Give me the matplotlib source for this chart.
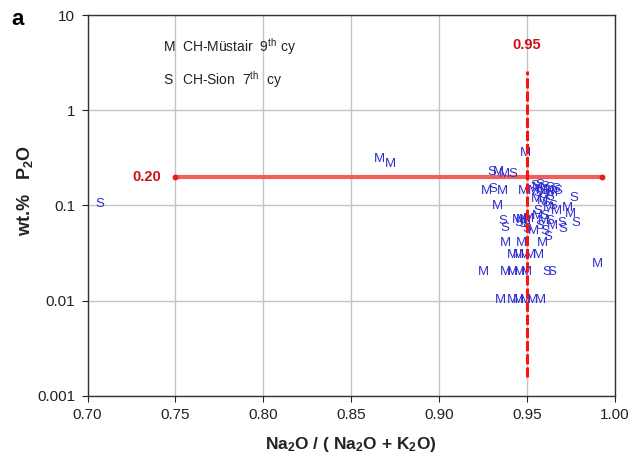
import matplotlib
matplotlib.use("Agg")
import matplotlib.pyplot as plt
from matplotlib.ticker import FixedLocator, NullLocator

plt.rcParams['font.family'] = ['Liberation Sans', 'DejaVu Sans']
plt.rcParams['mathtext.fontset'] = 'custom'
plt.rcParams['mathtext.rm'] = 'Liberation Sans'
plt.rcParams['mathtext.bf'] = 'Liberation Sans:bold'
plt.rcParams['mathtext.it'] = 'Liberation Sans:italic'

# ---- data ----
m_x = [0.866, 0.872, 0.949, 0.9335, 0.937, 0.927, 0.9358, 0.9477, 0.933,
       0.9375, 0.947, 0.9585, 0.925,
       0.9375, 0.9415, 0.9455, 0.9495,
       0.9415, 0.945, 0.9483, 0.952, 0.9563,
       0.9346, 0.9415, 0.945, 0.949, 0.953, 0.9574,
       0.9898,
       0.9534, 0.9557, 0.9585, 0.9619, 0.9642, 0.9551, 0.9585, 0.9619, 0.9665,
       0.9557, 0.9591, 0.9642, 0.9534, 0.9728, 0.9745,
       0.9443, 0.9466, 0.9489, 0.9506]
m_y = [0.309, 0.274, 0.358, 0.226, 0.215, 0.143, 0.143, 0.143, 0.099,
       0.0406, 0.0406, 0.0406, 0.0201,
       0.0201, 0.0201, 0.0201, 0.0201,
       0.0303, 0.0303, 0.0303, 0.0303, 0.0303,
       0.0102, 0.0102, 0.0102, 0.0102, 0.0102, 0.0102,
       0.0244,
       0.1427, 0.1535, 0.146, 0.1427, 0.136, 0.1176, 0.112, 0.0946, 0.088,
       0.078, 0.069, 0.0612, 0.0542, 0.0946, 0.0818,
       0.0708, 0.0708, 0.069, 0.0725]

s_x = [0.7071, 0.930, 0.942, 0.9306, 0.9363, 0.9375, 0.950, 0.9614, 0.964,
       0.9768, 0.9775, 0.9705, 0.970, 0.9676,
       0.9545, 0.9574, 0.9602, 0.9631, 0.9665, 0.9562, 0.9597, 0.9631, 0.9608,
       0.9648, 0.9562, 0.9602, 0.9631, 0.9574, 0.9602, 0.9619, 0.9454, 0.9477]
s_y = [0.104, 0.224, 0.215, 0.150, 0.069, 0.0583, 0.057, 0.0201, 0.0201,
       0.12, 0.0658, 0.0568, 0.066, 0.143,
       0.161, 0.165, 0.157, 0.1535, 0.1497, 0.136, 0.1296, 0.1234, 0.1067,
       0.0993, 0.088, 0.078, 0.069, 0.0612, 0.0542, 0.0469, 0.0658, 0.0643]

h_line_x = [0.75, 0.9925]
h_line_y = 0.20
v_line_x = 0.95
v_line_y = [0.00158, 2.6]

x_ticks = [0.70, 0.75, 0.80, 0.85, 0.90, 0.95, 1.00]
x_ticklabels = ['0.70', '0.75', '0.80', '0.85', '0.90', '0.95', '1.00']
y_ticks = [0.001, 0.01, 0.1, 1, 10]
y_ticklabels = ['0.001', '0.01', '0.1', '1', '10']

# ---- figure ----
fig = plt.figure(figsize=(6.36, 4.63), dpi=100)
ax = fig.add_axes([0.1376, 0.1454, 0.8294, 0.8222])
ax.set_yscale('log')
ax.set_xlim(0.70, 1.00)
ax.set_ylim(0.001, 10)

ax.xaxis.set_major_locator(FixedLocator(x_ticks))
ax.set_xticklabels(x_ticklabels)
ax.yaxis.set_major_locator(FixedLocator(y_ticks))
ax.yaxis.set_minor_locator(NullLocator())
ax.set_yticklabels(y_ticklabels)
ax.tick_params(axis='both', direction='out', length=4, width=0.8,
               labelsize=11, colors='#222222', pad=5)
ax.grid(True, which='major', color='#c4c4c4', linewidth=1.0)
ax.set_axisbelow(True)
for side, sp in ax.spines.items():
    sp.set_color('#333333')
    sp.set_linewidth(1.0)

# reference lines
ax.plot(h_line_x, [h_line_y, h_line_y], color='#f05f5a', linewidth=3.0,
        solid_capstyle='butt', zorder=2)
ax.plot(h_line_x, [h_line_y, h_line_y], linestyle='none', marker='o',
        markersize=3.2, color='#e02020', zorder=2)
ax.plot([v_line_x, v_line_x], v_line_y, color='#ff1010', linewidth=2.2,
        linestyle=(0, (3.3, 1.0)), zorder=5)

# data points as letters
blue = '#3030d0'
for x, y in zip(m_x, m_y):
    ax.text(x, y, 'M', color=blue, fontsize=9.5, ha='center', va='center', zorder=4)
for x, y in zip(s_x, s_y):
    ax.text(x, y, 'S', color=blue, fontsize=9.5, ha='center', va='center', zorder=4)

# threshold labels
ax.text(0.7335, h_line_y, '0.20', color='#d01010', fontsize=10.5, fontweight='bold',
        ha='center', va='center')
ax.text(v_line_x, 4.8, '0.95', color='#d01010', fontsize=10.5, fontweight='bold',
        ha='center', va='center')

# key text
ax.text(0.155, 0.916, 'M', transform=ax.transAxes, fontsize=10, ha='center',
        va='center', color='#222222')
ax.text(0.179, 0.916, r'CH-Müstair  9$^{\mathrm{th}}$ cy', transform=ax.transAxes,
        fontsize=10, ha='left', va='center', color='#222222')
ax.text(0.152, 0.83, 'S', transform=ax.transAxes, fontsize=10, ha='center',
        va='center', color='#222222')
ax.text(0.179, 0.83, r'CH-Sion  7$^{\mathrm{th}}$  cy', transform=ax.transAxes,
        fontsize=10, ha='left', va='center', color='#222222')

ax.set_xlabel(r'Na$_\mathbf{2}$O / ( Na$_\mathbf{2}$O + K$_\mathbf{2}$O)',
              fontsize=12.5, fontweight='bold', color='#222222')
ax.xaxis.set_label_coords(0.5, -0.104)
ax.set_ylabel(r'wt.%   P$_\mathbf{2}$O', fontsize=13, fontweight='bold',
              color='#222222', va='center')
ax.yaxis.set_label_coords(-0.118, 0.54)

fig.text(0.018, 0.957, 'a', fontsize=16, fontweight='bold', ha='left', va='center')

fig.savefig('out.png', dpi=100)
